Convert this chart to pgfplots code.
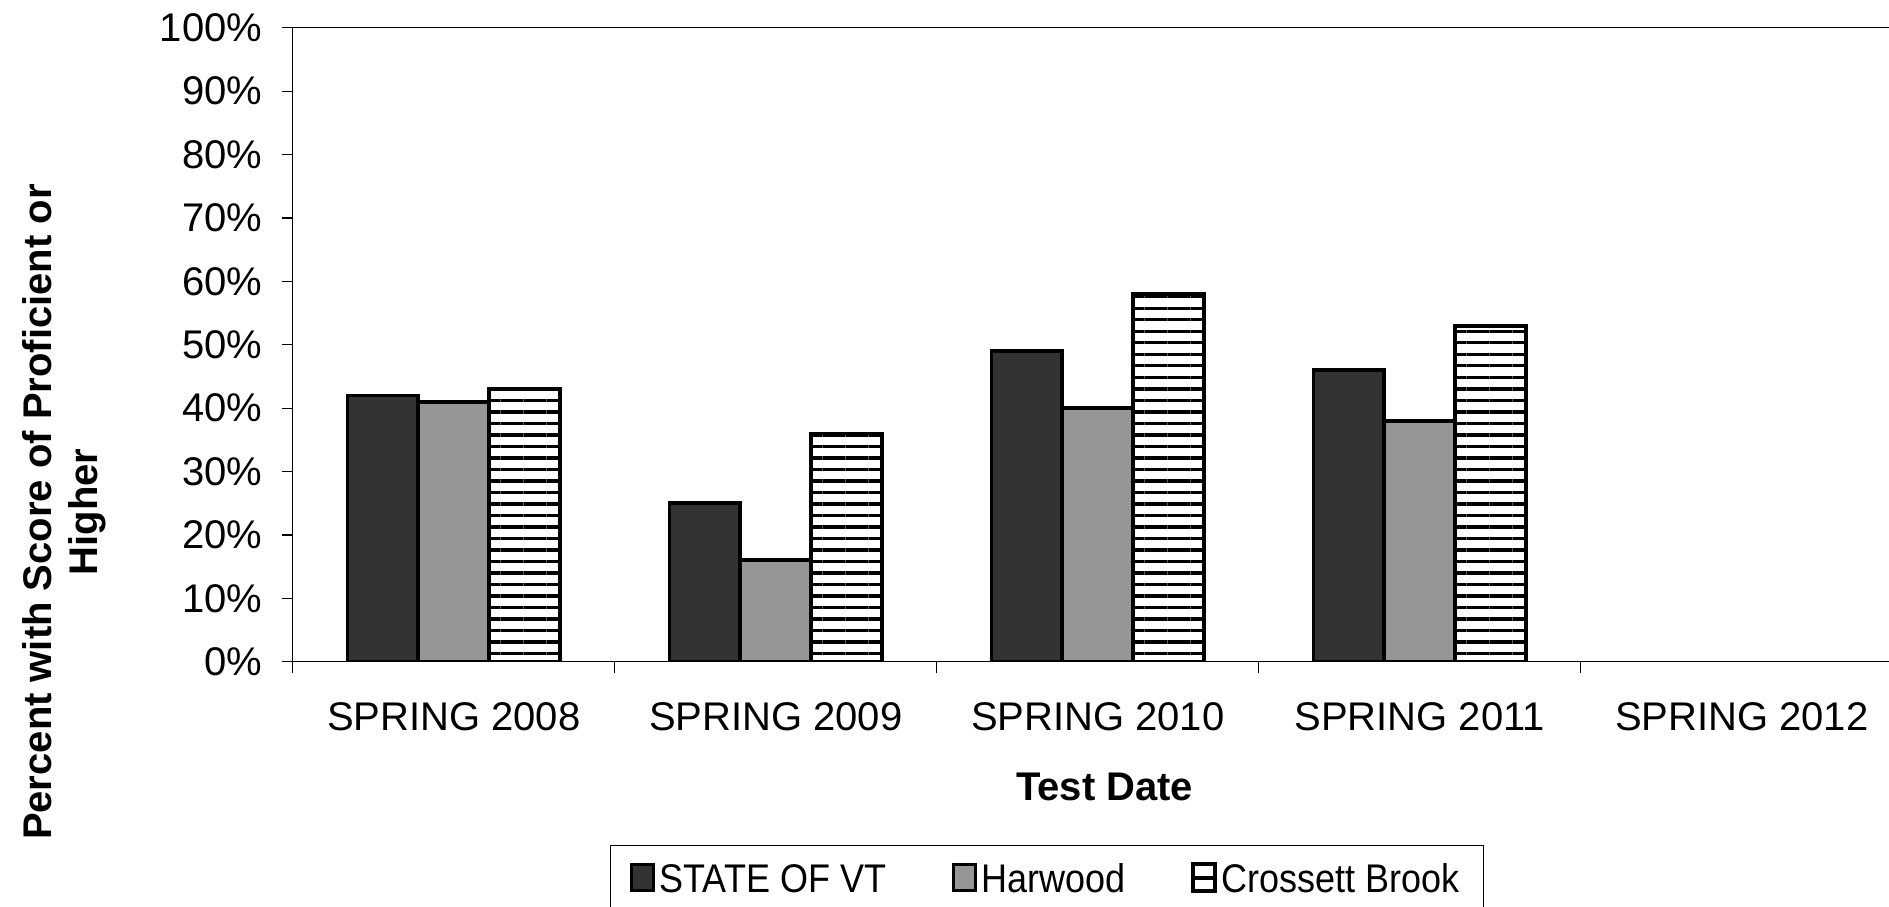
\documentclass[border=0pt]{standalone}
\usepackage{fontspec}
\setmainfont{Liberation Sans}
\newfontfamily\legendfont[FakeStretch=0.9]{Liberation Sans}
\usepackage{pgfplots}
\pgfplotsset{compat=1.18}
\usetikzlibrary{patterns.meta}
\makeatletter
\tikzset{no postactions/.code={\let\tikz@postactions\pgfutil@empty}}
\makeatother
\definecolor{darkbar}{HTML}{333333}
\definecolor{midbar}{HTML}{969696}
\begin{document}
\begin{tikzpicture}
\path[use as bounding box] (-146.4pt,-122.3pt) rectangle (798.1pt,330.85pt);
\begin{axis}[
  at={(0pt,0pt)}, anchor=south west,
  scale only axis, width=805pt, height=317pt,
  xmin=-0.5, xmax=4.5, ymin=0, ymax=100,
  axis line style={line width=0.6pt},
  ytick={0,10,...,100},
  /pgf/number format/assume math mode=true,
  yticklabel={\pgfmathprintnumber{\tick}\%},
  xtick={-0.5,0.5,1.5,2.5,3.5,4.5},
  x tick label as interval,
  xticklabels={SPRING 2008,SPRING 2009,SPRING 2010,SPRING 2011,SPRING 2012},
  xtick pos=bottom, ytick pos=left,
  tick align=outside,
  major tick length=5.5pt,
  tick style={line width=0.6pt, black},
  ticklabel style={font=\fontsize{20}{24}\selectfont},
  xticklabel style={yshift=-11.25pt},
  yticklabel style={xshift=-6.3pt},
  xlabel={Test Date},
  xlabel style={font=\bfseries\fontsize{20}{24}\selectfont, at={(rel axis cs:0.5043,-0.197)}, anchor=center},
  ylabel={Percent with Score of Proficient or\\Higher},
  ylabel style={font=\bfseries\fontsize{20}{22.9}\selectfont, align=center, at={(rel axis cs:-0.1422,0.236)}, anchor=center},
  ybar, bar width=0.22,
  legend columns=3,
  legend image code/.code={\draw[#1, line width=1.5pt] (0pt,-5.5pt) rectangle (11pt,7.8pt);},
  legend style={at={(rel axis cs:0.197,-0.2896)}, anchor=north west,
    draw=black, line width=0.5pt, font=\legendfont\fontsize{20}{22}\selectfont,
    inner xsep=10pt, inner ysep=7pt,
    /tikz/every even column/.append style={column sep=31pt},
    /tikz/column 4/.append style={column sep=27pt}},
]
\addplot[fill=darkbar, draw=black, line width=1.9pt, bar shift=-0.22]
  coordinates {(0,42) (1,25) (2,49) (3,46)};
\addlegendentry{STATE OF VT}
\addplot[fill=midbar, draw=black, line width=1.9pt, bar shift=0]
  coordinates {(0,41) (1,16) (2,40) (3,38)};
\addlegendentry{Harwood}
\addplot[fill=white, draw=black, line width=1.9pt, bar shift=0.22,
  postaction={pattern={Lines[angle=0,distance=5.75pt,line width=1.7pt]}, pattern color=black},
  legend image code/.code={\draw[no postactions, black, fill=white, line width=2pt] (0pt,-5.5pt) rectangle (11pt,7.8pt);
    \draw[no postactions, black, line width=2pt] (0pt,1.15pt) -- (11pt,1.15pt);}]
  coordinates {(0,43) (1,36) (2,58) (3,53)};
\addlegendentry{Crossett Brook}
\end{axis}
\end{tikzpicture}
\end{document}
